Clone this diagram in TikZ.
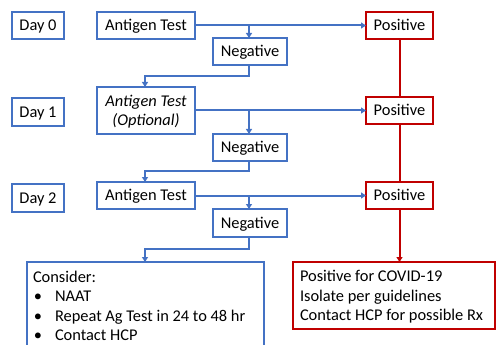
\documentclass[tikz,border=0pt]{standalone}
\usepackage{fontspec}
\setmainfont{Carlito}
\usetikzlibrary{arrows.meta}
\definecolor{bblue}{HTML}{4472C4}
\definecolor{rred}{HTML}{C00000}
\begin{document}
\begin{tikzpicture}[x=1pt,y=-1pt,
  every node/.style={font=\fontsize{16.4}{19}\selectfont, inner sep=0pt, outer sep=0pt},
  bbox/.style={draw=bblue, line width=2.4pt, fill=white, align=center, text height=10.6pt, text depth=0pt},
  rbox/.style={draw=rred, line width=2.4pt, fill=white, align=center, text height=10.6pt, text depth=0pt},
  bline/.style={draw=bblue, line width=2pt},
  rline/.style={draw=rred, line width=2pt},
  btip/.style={-{Triangle[length=5pt,width=6pt]}},
  txt/.style={anchor=base west}
]
\useasboundingbox (0,0) rectangle (496,345);
\clip (0,0) rectangle (496,345);
% Day labels
\node[bbox, minimum width=52pt, minimum height=27pt] (d0) at (38,25.5) {Day 0};
\node[bbox, minimum width=52pt, minimum height=28pt] (d1) at (38,112) {Day 1};
\node[bbox, minimum width=52pt, minimum height=28pt] (d2) at (38,198) {Day 2};
% Antigen tests
\node[bbox, minimum width=98pt, minimum height=27pt] (at0) at (146,25.5) {Antigen Test};
\node[bbox, minimum width=98pt, minimum height=47pt, text height=29.6pt, font=\fontsize{16.4}{19}\selectfont\itshape] (at1) at (146,110.5) {Antigen Test\\(Optional)};
\node[bbox, minimum width=98pt, minimum height=27pt] (at2) at (146,195.5) {Antigen Test};
% Negatives
\node[bbox, minimum width=74pt, minimum height=27pt] (n0) at (250,51.5) {Negative};
\node[bbox, minimum width=74pt, minimum height=27pt] (n1) at (250,147.5) {Negative};
\node[bbox, minimum width=74pt, minimum height=28pt] (n2) at (250,223) {Negative};
% Positives
\node[rbox, minimum width=67pt, minimum height=27pt] (p0) at (399.5,25.5) {Positive};
\node[rbox, minimum width=67pt, minimum height=27pt] (p1) at (399.5,110.5) {Positive};
\node[rbox, minimum width=67pt, minimum height=27pt] (p2) at (399.5,195.5) {Positive};
% Final boxes
\node[bbox, minimum width=237pt, minimum height=100pt] (cons) at (145.5,312) {};
\node[rbox, minimum width=202pt, minimum height=67pt] (res) at (394,295.5) {};
% Consider text
\node[txt] (c0) at (33,282) {Consider:};
\node[txt] (c1b) at (34,301) {•};
\node[txt] (c1) at (55,301) {NAAT};
\node[txt] (c2b) at (34,321) {•};
\node[txt] (c2) at (55,321) {Repeat Ag Test in 24 to 48 hr};
\node[txt] (c3b) at (34,340) {•};
\node[txt] (c3) at (55,340) {Contact HCP};
% Result text
\node[txt] (r1) at (300,281) {Positive for COVID-19};
\node[txt] (r2) at (300,301) {Isolate per guidelines};
\node[txt] (r3) at (300,320) {Contact HCP for possible Rx};
% coordinates for branches
\coordinate (b0) at (249,25.5);
\coordinate (b1) at (249,110.5);
\coordinate (b2) at (249,195.5);
\coordinate (m0a) at (249,76);
\coordinate (m0b) at (145,76);
\coordinate (m1a) at (249,171);
\coordinate (m1b) at (145,171);
\coordinate (m2a) at (249,249);
\coordinate (m2b) at (145,249);
% Blue connectors
\draw[bline, btip] (at0.east) -- (p0.west);
\draw[bline, btip] (b0) -- (n0.north -| b0);
\draw[bline, btip] (n0.south -| m0a) -- (m0a) -- (m0b) -- (at1.north -| m0b);
\draw[bline, btip] (at1.east) -- (p1.west);
\draw[bline, btip] (b1) -- (n1.north -| b1);
\draw[bline, btip] (n1.south -| m1a) -- (m1a) -- (m1b) -- (at2.north -| m1b);
\draw[bline, btip] (at2.east) -- (p2.west);
\draw[bline, btip] (b2) -- (n2.north -| b2);
\draw[bline, btip] (n2.south -| m2a) -- (m2a) -- (m2b) -- (cons.north -| m2b);
% Red connectors
\draw[rline] (p0.south) -- (p1.north);
\draw[rline] (p1.south) -- (p2.north);
\draw[rline, btip] (p2.south) -- (res.north -| p2.south);
\end{tikzpicture}
\end{document}
